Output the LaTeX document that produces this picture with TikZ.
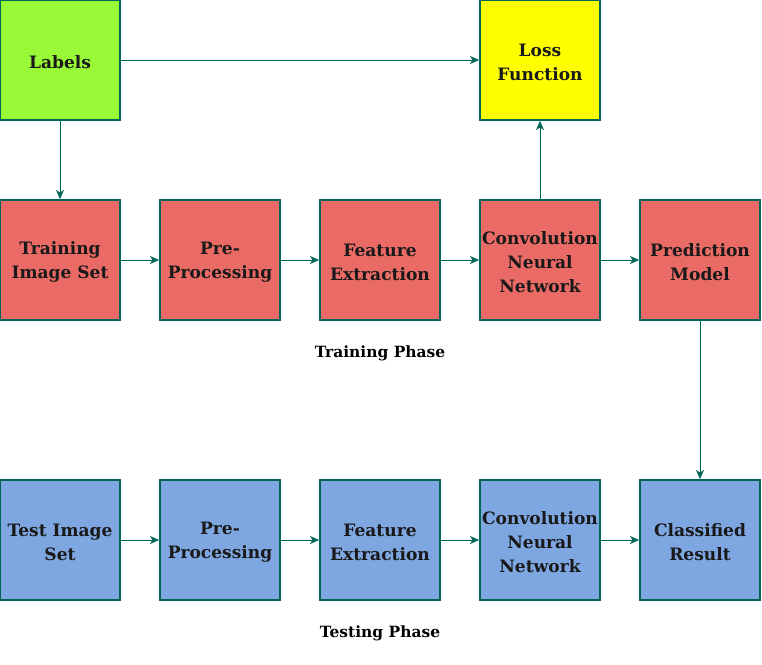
\documentclass[tikz,border=0pt]{standalone}
\usepackage{fontspec}
\setmainfont{DejaVu Serif}
\usetikzlibrary{arrows.meta}
\definecolor{edgec}{HTML}{006658}
\definecolor{redf}{HTML}{EA6B66}
\definecolor{bluef}{HTML}{7EA6E0}
\definecolor{greenf}{HTML}{99F936}
\definecolor{yellowf}{HTML}{FFFF00}
\begin{document}
\begin{tikzpicture}[x=0.75pt,y=-0.75pt,
  box/.style={draw=edgec,line width=1.5pt*0.75,minimum width=120*0.75pt,minimum height=120*0.75pt,inner sep=0pt,
    label={[yshift=-1.8pt,align=center,font=\fontsize{12.8}{18}\selectfont\bfseries,text=black!90]center:#1}},
  conn/.style={draw=edgec,line width=0.75pt,-{Stealth[length=7pt,width=6pt,inset=2pt]}},
  phase/.style={font=\fontsize{11.6}{14}\selectfont\bfseries}]
\useasboundingbox (0,0) rectangle (762,664);
\node[box={Labels},fill=greenf] (lab) at (60,60) {};
\node[box={Loss\\Function},fill=yellowf] (loss) at (540,60) {};
\node[box={Training\\Image Set},fill=redf] (tr) at (60,260) {};
\node[box={Pre-\\Processing},fill=redf] (pp1) at (220,260) {};
\node[box={Feature\\Extraction},fill=redf] (fe1) at (380,260) {};
\node[box={Convolution\\Neural\\Network},fill=redf] (cnn1) at (540,260) {};
\node[box={Prediction\\Model},fill=redf] (pm) at (700,260) {};
\node[box={Test Image\\Set},fill=bluef] (te) at (60,540) {};
\node[box={Pre-\\Processing},fill=bluef] (pp2) at (220,540) {};
\node[box={Feature\\Extraction},fill=bluef] (fe2) at (380,540) {};
\node[box={Convolution\\Neural\\Network},fill=bluef] (cnn2) at (540,540) {};
\node[box={Classified\\Result},fill=bluef] (cr) at (700,540) {};
\node[phase] (trp) at (380,353) {Training Phase};
\node[phase] (tep) at (380,633) {Testing Phase};
\draw[conn] (lab) -- (loss);
\draw[conn] (lab) -- (tr);
\draw[conn] (cnn1) -- (loss);
\draw[conn] (tr) -- (pp1);
\draw[conn] (pp1) -- (fe1);
\draw[conn] (fe1) -- (cnn1);
\draw[conn] (cnn1) -- (pm);
\draw[conn] (pm) -- (cr);
\draw[conn] (te) -- (pp2);
\draw[conn] (pp2) -- (fe2);
\draw[conn] (fe2) -- (cnn2);
\draw[conn] (cnn2) -- (cr);
\end{tikzpicture}
\end{document}
